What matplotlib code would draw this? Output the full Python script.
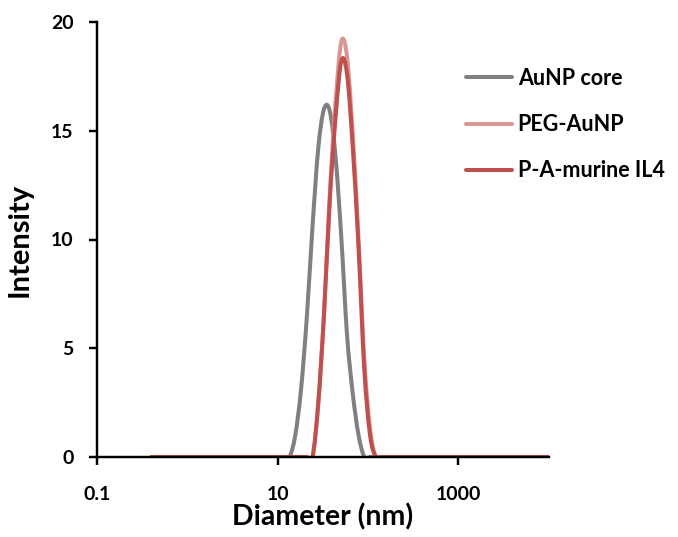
import numpy as np
import matplotlib
matplotlib.use('Agg')
import matplotlib.pyplot as plt
from matplotlib.path import Path
from matplotlib.patches import PathPatch
from matplotlib.lines import Line2D

# ---- data (DLS size distribution, intensity %) ----
diameter_nm = [0.4, 0.4632, 0.5365, 0.6213, 0.7195, 0.8332, 0.9649, 1.117, 1.294, 1.499,
               1.736, 2.01, 2.328, 2.696, 3.122, 3.615, 4.187, 4.849, 5.615, 6.503,
               7.531, 8.721, 10.1, 11.7, 13.54, 15.69, 18.17, 21.04, 24.36, 28.21,
               32.67, 37.84, 43.82, 50.75, 58.77, 68.06, 78.82, 91.28, 105.7, 122.4,
               141.8, 164.2, 190.1, 220.2, 255.0, 295.3, 342.0, 396.1, 458.7, 531.2,
               615.1, 712.4, 825.0, 955.4, 1106, 1281, 1484, 1718, 1990, 2305,
               2669, 3091, 3580, 4145, 4801, 5560, 6439, 7456, 8635, 10000]

aunp_core = [0, 0, 0, 0, 0, 0, 0, 0, 0, 0,
             0, 0, 0, 0, 0, 0, 0, 0, 0, 0,
             0, 0, 0, 0, 0, 1.0, 3.1, 6.4, 10.6, 14.2,
             16.0, 15.9, 13.8, 10.1, 5.6, 2.9, 1.0, 0, 0, 0,
             0, 0, 0, 0, 0, 0, 0, 0, 0, 0,
             0, 0, 0, 0, 0, 0, 0, 0, 0, 0,
             0, 0, 0, 0, 0, 0, 0, 0, 0, 0]

peg_aunp = [0, 0, 0, 0, 0, 0, 0, 0, 0, 0,
            0, 0, 0, 0, 0, 0, 0, 0, 0, 0,
            0, 0, 0, 0, 0, 0, 0, 0, 0, 2.4,
            6.6, 12.1, 16.3, 19.1, 18.4, 14.8, 10.0, 4.5, 1.3, 0,
            0, 0, 0, 0, 0, 0, 0, 0, 0, 0,
            0, 0, 0, 0, 0, 0, 0, 0, 0, 0,
            0, 0, 0, 0, 0, 0, 0, 0, 0, 0]

pa_murine_il4 = [0, 0, 0, 0, 0, 0, 0, 0, 0, 0,
                 0, 0, 0, 0, 0, 0, 0, 0, 0, 0,
                 0, 0, 0, 0, 0, 0, 0, 0, 0, 2.5,
                 6.6, 11.8, 15.6, 18.2, 17.6, 14.2, 9.6, 4.0, 1.0, 0,
                 0, 0, 0, 0, 0, 0, 0, 0, 0, 0,
                 0, 0, 0, 0, 0, 0, 0, 0, 0, 0,
                 0, 0, 0, 0, 0, 0, 0, 0, 0, 0]

series_names = ['AuNP core', 'PEG-AuNP', 'P-A-murine IL4']
series_colors = ['#808080', '#DA9694', '#C0504D']
x_ticks = [0.1, 10, 1000]
x_tick_labels = ['0.1', '10', '1000']
y_ticks = [0, 5, 10, 15, 20]


def smooth_path(x, y):
    """Excel-style smoothed line (Catmull-Rom -> cubic Bezier) in log-x space."""
    lx = np.log10(np.asarray(x, float))
    y = np.asarray(y, float)
    n = len(lx)
    verts = [(x[0], y[0])]
    codes = [Path.MOVETO]
    for i in range(n - 1):
        p0 = max(i - 1, 0)
        p3 = min(i + 2, n - 1)
        c1x = lx[i] + (lx[i + 1] - lx[p0]) / 6
        c1y = y[i] + (y[i + 1] - y[p0]) / 6
        c2x = lx[i + 1] - (lx[p3] - lx[i]) / 6
        c2y = y[i + 1] - (y[p3] - y[i]) / 6
        verts += [(10 ** c1x, c1y), (10 ** c2x, c2y), (x[i + 1], y[i + 1])]
        codes += [Path.CURVE4] * 3
    return Path(verts, codes)


plt.rcParams['font.family'] = ['Lato', 'DejaVu Sans']
plt.rcParams['font.weight'] = 'bold'

fig = plt.figure(figsize=(6.78, 5.37), dpi=100)
ax = fig.add_axes([97 / 678, 80 / 537, 451.5 / 678, 435 / 537])

handles = []
for vals, name, col in zip([aunp_core, peg_aunp, pa_murine_il4], series_names, series_colors):
    patch = PathPatch(smooth_path(diameter_nm, vals), facecolor='none', edgecolor=col,
                      lw=2.9, capstyle='round', joinstyle='round')
    ax.add_patch(patch)
    handles.append(Line2D([], [], color=col, lw=2.9, solid_capstyle='round'))

ax.set_xscale('log')
ax.set_xlim(0.1, 10000)
ax.set_ylim(0, 20)
ax.set_xticks(x_ticks)
ax.set_xticklabels(x_tick_labels)
ax.xaxis.set_minor_locator(matplotlib.ticker.NullLocator())
ax.set_yticks(y_ticks)

for s in ['top', 'right']:
    ax.spines[s].set_visible(False)
for s in ['left', 'bottom']:
    ax.spines[s].set_linewidth(1.75)
    ax.spines[s].set_color('black')

ax.tick_params(axis='x', direction='out', length=6, width=1.75, pad=15, labelsize=14)
ax.tick_params(axis='y', direction='out', length=6, width=1.75, pad=11, labelsize=14)
for lab in ax.get_xticklabels() + ax.get_yticklabels():
    lab.set_fontweight('bold')

ax.set_xlabel('Diameter (nm)', fontsize=20.5, fontweight='bold')
ax.set_ylabel('Intensity', fontsize=21, fontweight='bold')
ax.xaxis.set_label_coords(0.5, -0.106)
ax.yaxis.set_label_coords(-0.142, 0.5)

fig.legend(handles, series_names, loc='upper left', bbox_to_anchor=(466 / 678, 1 - 68 / 537),
           frameon=False, handlelength=2.15, handletextpad=0.25,
           labelspacing=1.17, borderpad=0, borderaxespad=0,
           prop={'weight': 'bold', 'size': 15.5})

fig.savefig('out.png', dpi=100)
